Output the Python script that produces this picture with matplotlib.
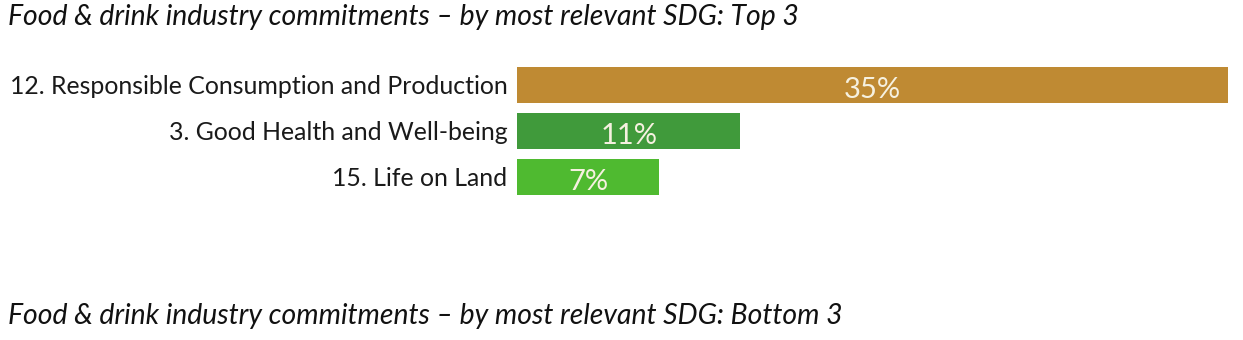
import matplotlib
matplotlib.use("Agg")
import matplotlib.pyplot as plt

categories = ["12. Responsible Consumption and Production",
              "3. Good Health and Well-being",
              "15. Life on Land"]
values = [35, 11, 7]
value_labels = ["35%", "11%", "7%"]
colors = ["#BF8A33", "#409A3B", "#4FBA30"]
title_top = "Food & drink industry commitments \u2013 by most relevant SDG: Top 3"
title_bottom = "Food & drink industry commitments \u2013 by most relevant SDG: Bottom 3"

W, H = 1243, 340
fig = plt.figure(figsize=(W / 100, H / 100), dpi=100)
fig.patch.set_facecolor("white")

ax = fig.add_axes([517 / W, 1 - 200 / H, 711 / W, 138 / H])
ypos = list(range(len(categories)))
ax.barh(ypos, values, height=0.8, color=colors)
ax.set_xlim(0, 35)
ax.set_ylim(len(categories) - 0.5, -0.5)
ax.set_yticks(ypos)
ax.set_yticklabels(categories, fontfamily="Lato", fontsize=17.9, color="#1a1a1a")
ax.tick_params(axis="y", length=0, pad=7)
ax.set_xticks([])
for s in ax.spines.values():
    s.set_visible(False)

for y, v, lab in zip(ypos, values, value_labels):
    ax.text(v / 2, y + 0.1, lab, ha="center", va="center", fontfamily="Lato",
            fontsize=21, color="#F6F1E0")

fig.text(8 / W, 1 - 17 / H, title_top, ha="left", va="center",
         fontfamily="Lato", fontstyle="italic", fontsize=20.4, color="#111111")
fig.text(8 / W, 1 - 316 / H, title_bottom, ha="left", va="center",
         fontfamily="Lato", fontstyle="italic", fontsize=20.4, color="#111111")

fig.savefig("out.png", dpi=100, facecolor="white")
